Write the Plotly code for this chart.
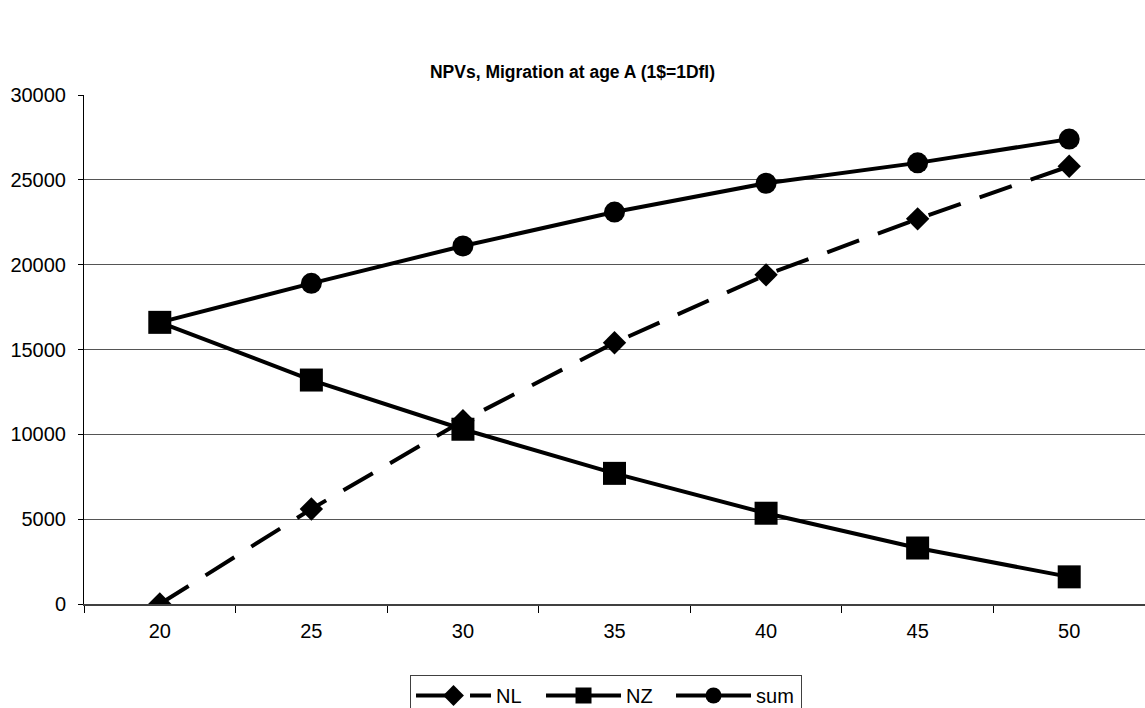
import plotly.graph_objects as go

ages = ["20", "25", "30", "35", "40", "45", "50"]
nl = [0, 5600, 10800, 15400, 19400, 22700, 25800]
nz = [16600, 13200, 10300, 7700, 5350, 3300, 1600]
total = [16600, 18900, 21100, 23100, 24800, 26000, 27400]
y_ticks = [0, 5000, 10000, 15000, 20000, 25000, 30000]

FONT = "Liberation Sans, Arial, sans-serif"

fig = go.Figure()
fig.add_trace(go.Scatter(
    x=ages, y=nl, name="NL", mode="lines+markers",
    line=dict(color="black", width=4, dash="34px,20px"),
    marker=dict(symbol="diamond", size=18, color="black"),
))
fig.add_trace(go.Scatter(
    x=ages, y=nz, name="NZ", mode="lines+markers",
    line=dict(color="black", width=4),
    marker=dict(symbol="square", size=23, color="black"),
))
fig.add_trace(go.Scatter(
    x=ages, y=total, name="sum", mode="lines+markers",
    line=dict(color="black", width=4),
    marker=dict(symbol="circle", size=21, color="black"),
))

fig.update_layout(
    width=1145, height=708,
    paper_bgcolor="white", plot_bgcolor="white",
    margin=dict(l=84, r=0, t=95, b=104, autoexpand=False),
    font=dict(family=FONT, size=20, color="black"),
    title=dict(text="<b>NPVs, Migration at age A (1$=1Dfl)</b>",
               x=0.5, xanchor="center", y=1 - 72 / 708, yanchor="middle",
               font=dict(family=FONT, size=17.5, color="black")),
    showlegend=True,
    legend=dict(orientation="h", x=0.492, xanchor="center",
                yref="container", y=1 - 675 / 708, yanchor="top",
                bordercolor="#404040", borderwidth=1, bgcolor="white",
                font=dict(family=FONT, size=20, color="black"),
                entrywidth=40, entrywidthmode="pixels", itemwidth=75),
)
fig.update_xaxes(
    type="category", range=[-0.5, 6.5], tickson="boundaries",
    ticks="outside", ticklen=7, tickcolor="black",
    showline=True, linecolor="#404040", linewidth=2,
    showgrid=False, tickfont=dict(size=20), automargin=False,
    ticklabelstandoff=8,
)
fig.update_yaxes(
    range=[0, 30000], tickvals=y_ticks, tickformat="d",
    ticks="outside", ticklen=5, tickcolor="black",
    showline=True, linecolor="black", linewidth=1,
    showgrid=True, gridcolor="#555555", gridwidth=1,
    zeroline=False, tickfont=dict(size=20), automargin=False,
    ticklabelstandoff=8,
)

fig.write_html(
    "out.html",
    config={"displayModeBar": False},
    post_script="document.body.style.margin='0';document.body.style.overflow='hidden';",
)
